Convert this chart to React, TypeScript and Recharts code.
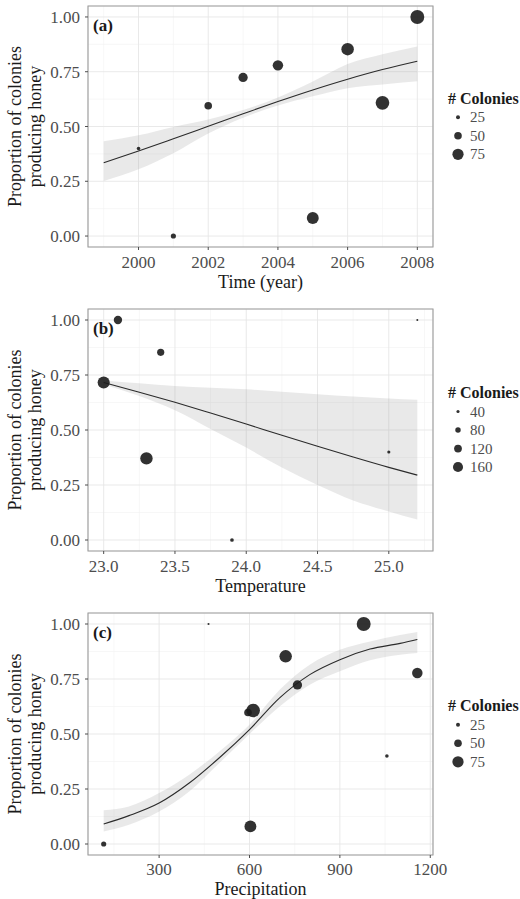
import React from 'react';
import {
  ComposedChart,
  Area,
  Line,
  Scatter,
  XAxis,
  YAxis,
  CartesianGrid,
  ReferenceArea,
} from 'recharts';

// ---- shared y axis ----
const propTicks = [0, 0.25, 0.5, 0.75, 1];
const propMinorTicks = [0.125, 0.375, 0.625, 0.875];

// ---- (a) time ----
const timeCurveX = [1999, 2000, 2001, 2002, 2003, 2004, 2005, 2006, 2007, 2008];
const timeFit = [0.335, 0.388, 0.444, 0.501, 0.558, 0.614, 0.667, 0.716, 0.76, 0.798];
const timeLower = [0.251, 0.305, 0.378, 0.468, 0.54, 0.596, 0.638, 0.675, 0.692, 0.706];
const timeUpper = [0.433, 0.46, 0.498, 0.532, 0.575, 0.632, 0.705, 0.785, 0.83, 0.865];
const timeYears = [2000, 2001, 2002, 2003, 2004, 2005, 2006, 2007, 2008];
const timeProp = [0.4, 0.0, 0.595, 0.724, 0.779, 0.082, 0.853, 0.608, 1.0];
const timeColonies = [22, 33, 50, 62, 70, 80, 84, 92, 94];
const timeTicks = [2000, 2002, 2004, 2006, 2008];
const timeMinorTicks = [1999, 2001, 2003, 2005, 2007];
const timeLegend = [25, 50, 75];

// ---- (b) temperature ----
const tempCurveX = [23.0, 23.25, 23.5, 23.75, 24.0, 24.25, 24.5, 24.75, 25.0, 25.2];
const tempFit = [0.716, 0.672, 0.626, 0.577, 0.527, 0.476, 0.426, 0.377, 0.33, 0.295];
const tempLower = [0.706, 0.655, 0.59, 0.505, 0.42, 0.33, 0.25, 0.18, 0.13, 0.093];
const tempUpper = [0.725, 0.712, 0.7, 0.692, 0.685, 0.674, 0.663, 0.652, 0.643, 0.637];
const tempValues = [23.0, 23.1, 23.3, 23.4, 23.9, 25.0, 25.2];
const tempProp = [0.716, 1.0, 0.371, 0.853, 0.0, 0.4, 1.0];
const tempColonies = [195, 130, 200, 110, 50, 40, 20];
const tempTicks = [23.0, 23.5, 24.0, 24.5, 25.0];
const tempMinorTicks = [23.25, 23.75, 24.25, 24.75, 25.25];
const tempLegend = [40, 80, 120, 160];

// ---- (c) precipitation ----
const precCurveX = [116, 200, 300, 400, 500, 600, 700, 800, 900, 1000, 1100, 1157];
const precFit = [0.091, 0.129, 0.186, 0.277, 0.392, 0.52, 0.664, 0.77, 0.838, 0.886, 0.912, 0.93];
const precLower = [0.057, 0.088, 0.148, 0.239, 0.368, 0.5, 0.625, 0.724, 0.785, 0.835, 0.86, 0.868];
const precUpper = [0.153, 0.171, 0.232, 0.315, 0.421, 0.542, 0.701, 0.815, 0.883, 0.921, 0.95, 0.964];
const precValues = [116, 464, 612, 595, 603, 720, 759, 979, 1056, 1157];
const precProp = [0.0, 1.0, 0.607, 0.598, 0.08, 0.853, 0.723, 1.0, 0.4, 0.777];
const precColonies = [33, 12, 92, 50, 80, 84, 62, 94, 22, 70];
const precTicks = [300, 600, 900, 1200];
const precMinorTicks = [150, 450, 750, 1050];
const precLegend = [25, 50, 75];

const FONT = '"Liberation Serif", "Times New Roman", serif';
const POINT_FILL = '#1c1c1c';

const radiusSmall = (n: number) => 0.2 + 0.072 * n;
const radiusLarge = (n: number) => 0.4 + 0.029 * n;

function makeCurve(xs: number[], fit: number[], lo: number[], hi: number[]) {
  return xs.map((x, i) => ({ x, fit: fit[i], lo: lo[i], hi: hi[i] }));
}

function makePoints(xs: number[], ys: number[], ns: number[]) {
  return xs.map((x, i) => ({ x, y: ys[i], n: ns[i] }));
}

interface PanelProps {
  offsetTop: number;
  height: number;
  marginTop: number;
  marginBottom: number;
  axisHeight: number;
  labelOffset: number;
  tickGap: number;
  curve: { x: number; fit: number; lo: number; hi: number }[];
  points: { x: number; y: number; n: number }[];
  xTicks: number[];
  xMinor: number[];
  xFormat: (v: number) => string;
  xTitle: string;
  letter: string;
  legend: number[];
  radius: (n: number) => number;
}

const tickStyle = { fontSize: 17, fill: '#4d4d4d', fontFamily: FONT };

const Panel: React.FC<PanelProps> = (p) => {
  const xs = [...p.curve.map((d) => d.x), ...p.points.map((d) => d.x)];
  const lo = Math.min(...xs);
  const hi = Math.max(...xs);
  const pad = (hi - lo) * 0.05;
  const xDomain: [number, number] = [lo - pad, hi + pad];
  const yDomain: [number, number] = [-0.05, 1.05];

  const plotBottom = p.height - p.marginBottom - p.axisHeight;
  const plotCenter = (p.marginTop + plotBottom) / 2;
  const step = 18.5;
  const firstItem = plotCenter - ((p.legend.length - 1) / 2) * step + 9.3;

  return (
    <div style={{ position: 'absolute', left: 0, top: p.offsetTop, width: 520, height: p.height }}>
      <ComposedChart
        width={520}
        height={p.height}
        data={p.curve}
        margin={{ top: p.marginTop, right: 87, bottom: p.marginBottom, left: 8 }}
        style={{ fontFamily: FONT }}
      >
        <CartesianGrid
          stroke="#f2f2f2"
          strokeWidth={0.6}
          horizontalValues={propMinorTicks}
          verticalValues={p.xMinor}
        />
        <CartesianGrid stroke="#e6e6e6" strokeWidth={0.9} />
        <XAxis
          dataKey="x"
          type="number"
          domain={xDomain}
          allowDataOverflow
          ticks={p.xTicks}
          interval={0}
          tickFormatter={p.xFormat}
          tick={tickStyle}
          tickSize={3}
          tickMargin={p.tickGap}
          tickLine={{ stroke: '#4d4d4d' }}
          axisLine={false}
          height={p.axisHeight}
          label={{
            value: p.xTitle,
            position: 'insideBottom',
            offset: p.labelOffset,
            fontSize: 18,
            fill: '#1a1a1a',
            fontFamily: FONT,
          }}
        />
        <YAxis
          dataKey="y"
          type="number"
          domain={yDomain}
          allowDataOverflow
          ticks={propTicks}
          interval={0}
          tickFormatter={(v: number) => v.toFixed(2)}
          tick={tickStyle}
          tickSize={3}
          tickMargin={5}
          tickLine={{ stroke: '#4d4d4d' }}
          axisLine={false}
          width={80}
        />
        <Area
          dataKey={(d: any) => [d.lo, d.hi]}
          type="monotone"
          stroke="none"
          fill="#9a9a9a"
          fillOpacity={0.22}
          isAnimationActive={false}
        />
        <Line
          dataKey="fit"
          type="monotone"
          stroke="#2b2b2b"
          strokeWidth={1.1}
          dot={false}
          activeDot={false}
          isAnimationActive={false}
        />
        <Scatter
          data={p.points}
          isAnimationActive={false}
          shape={(s: any) => (
            <circle cx={s.cx} cy={s.cy} r={p.radius(s.payload.n)} fill={POINT_FILL} fillOpacity={0.9} />
          )}
        />
        <ReferenceArea
          x1={xDomain[0]}
          x2={xDomain[1]}
          y1={yDomain[0]}
          y2={yDomain[1]}
          fill="none"
          stroke="#9e9e9e"
          strokeWidth={1.1}
          ifOverflow="visible"
        />
      </ComposedChart>
      <svg
        width={520}
        height={p.height}
        style={{ position: 'absolute', left: 0, top: 0, pointerEvents: 'none', fontFamily: FONT }}
      >
        <text x={93} y={p.marginTop + 25} fontSize={17} fontWeight="bold" fill="#1a1a1a">
          {p.letter}
        </text>
        <text
          transform={`translate(25,${plotCenter}) rotate(-90)`}
          textAnchor="middle"
          fontSize={18}
          fill="#1a1a1a"
        >
          <tspan x={0} y={-4}>Proportion of colonies</tspan>
          <tspan x={0} y={16}>producing honey</tspan>
        </text>
        <text x={448} y={firstItem - 19 + 5.5} fontSize={16} fontWeight="bold" fill="#1a1a1a">
          # Colonies
        </text>
        {p.legend.map((b, i) => (
          <g key={b}>
            <circle cx={458} cy={firstItem + i * step} r={p.radius(b)} fill={POINT_FILL} fillOpacity={0.9} />
            <text x={470} y={firstItem + i * step + 5} fontSize={15} fill="#4d4d4d">
              {b}
            </text>
          </g>
        ))}
      </svg>
    </div>
  );
};

const App: React.FC = () => {
  return (
    <div
      style={{
        position: 'absolute',
        left: 0,
        top: 0,
        width: 520,
        height: 899,
        background: '#fff',
        fontFamily: FONT,
      }}
    >
      <Panel
        offsetTop={0}
        height={300}
        marginTop={6}
        marginBottom={8}
        axisHeight={45}
        labelOffset={4}
        tickGap={6}
        curve={makeCurve(timeCurveX, timeFit, timeLower, timeUpper)}
        points={makePoints(timeYears, timeProp, timeColonies)}
        xTicks={timeTicks}
        xMinor={timeMinorTicks}
        xFormat={(v) => String(v)}
        xTitle="Time (year)"
        letter="(a)"
        legend={timeLegend}
        radius={radiusSmall}
      />
      <Panel
        offsetTop={300}
        height={300}
        marginTop={9}
        marginBottom={4}
        axisHeight={45}
        labelOffset={4}
        tickGap={6}
        curve={makeCurve(tempCurveX, tempFit, tempLower, tempUpper)}
        points={makePoints(tempValues, tempProp, tempColonies)}
        xTicks={tempTicks}
        xMinor={tempMinorTicks}
        xFormat={(v) => v.toFixed(1)}
        xTitle="Temperature"
        letter="(b)"
        legend={tempLegend}
        radius={radiusLarge}
      />
      <Panel
        offsetTop={600}
        height={299}
        marginTop={13}
        marginBottom={0}
        axisHeight={44}
        labelOffset={4}
        tickGap={5}
        curve={makeCurve(precCurveX, precFit, precLower, precUpper)}
        points={makePoints(precValues, precProp, precColonies)}
        xTicks={precTicks}
        xMinor={precMinorTicks}
        xFormat={(v) => String(v)}
        xTitle="Precipitation"
        letter="(c)"
        legend={precLegend}
        radius={radiusSmall}
      />
    </div>
  );
};

export default App;
